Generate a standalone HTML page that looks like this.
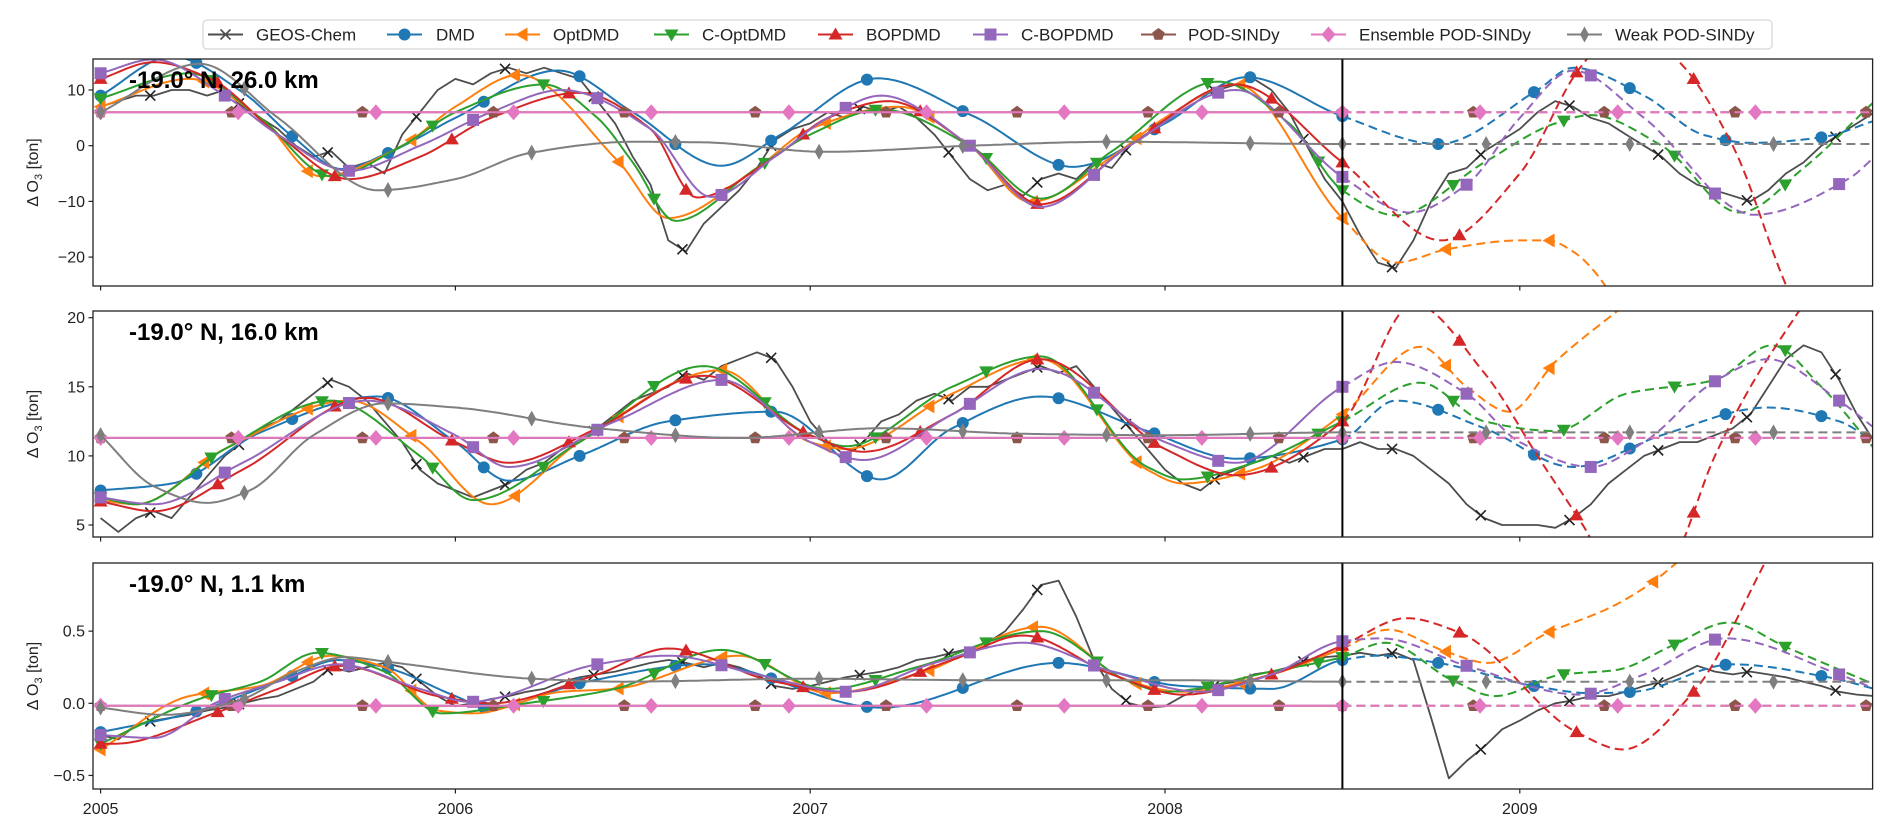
<!DOCTYPE html>
<html><head><meta charset="utf-8"><style>
html,body{margin:0;padding:0;background:#fff;width:1892px;height:834px;overflow:hidden;}
svg{display:block;font-family:"Liberation Sans","DejaVu Sans",sans-serif;}
</style></head><body>
<svg id="chart" width="1892" height="834" viewBox="0 0 1892 834" xmlns="http://www.w3.org/2000/svg" overflow="hidden"></svg>
<script>
// ---------- data ----------
const years = [2005, 2006, 2007, 2008, 2009];
const panelTitles = ["-19.0° N, 26.0 km", "-19.0° N, 16.0 km", "-19.0° N, 1.1 km"];
const p1Ticks = [10, 0, -10, -20];
const p2Ticks = [20, 15, 10, 5];
const p3Ticks = [0.5, 0.0, -0.5];
const p3TickLabels = ["0.5", "0.0", "\u22120.5"];
const splitYear = 2008.5;

// GEOS-Chem samples every 0.05 yr from 2005.00
const p1Geos = [7,8,9,9,10,10,9,10,7,5, 3,0,-2,-1,-4,-3,-5,2,6,10, 12,11,13,14,13,14,13,12,8,4, -2,-7,-17,-19,-14,-11,-8,-4,1,3, 4,6,5,7,6,7,5,2,-2,-6, -8,-7,-9,-6,-5,-6,-3,-4,0,2, 5,7,9,10,11,12,10,6,0,-6, -10,-16,-21,-22,-17,-10,-5,-4,-1,1, 3,6,8,7,5,4,2,0,-2,-5, -7,-8,-9,-10,-8,-5,-3,0,2,4, 6];
const p2Geos = [5.5,4.5,5.5,6,5.5,7,8.5,10,11,12, 12.5,13.5,14.5,15.5,15,14,12.5,11,9,8, 7.5,7,7.5,8,9,9.5,10.5,11,12,13, 14,14.5,15,16,15.5,16.5,17,17.5,17,15, 12.5,11,10,11,12.5,13,14,14.5,14,15, 15,15.5,16,16.5,16,16.5,15,13.5,12,10.5, 9,8,7.5,8.5,9,9.5,10,9.5,10,10.5, 10.5,11,10.5,10.5,10,9,8,6.5,5.5,5, 5,5,4.8,5.5,6.5,8,9,10,10.5,11, 11,11.5,12,13,15,17,18,17.5,15.5,13, 11];
const p3Geos = [-0.22,-0.25,-0.15,-0.12,-0.1,-0.08,-0.05,-0.03,0.0,0.03, 0.05,0.1,0.15,0.25,0.22,0.25,0.28,0.25,0.15,0.05, -0.02,0.0,0.03,0.05,0.08,0.1,0.15,0.18,0.2,0.22, 0.25,0.28,0.3,0.28,0.25,0.28,0.25,0.2,0.12,0.1, 0.12,0.15,0.18,0.2,0.22,0.25,0.3,0.32,0.35,0.38, 0.42,0.5,0.65,0.82,0.85,0.6,0.3,0.1,0.0,-0.03, -0.02,0.05,0.1,0.13,0.15,0.2,0.22,0.25,0.3,0.32, 0.33,0.35,0.33,0.35,0.3,-0.1,-0.52,-0.4,-0.3,-0.18, -0.12,-0.05,0.0,0.02,0.05,0.05,0.08,0.12,0.15,0.2, 0.26,0.22,0.2,0.22,0.2,0.18,0.15,0.12,0.08,0.06, 0.05];

// Panel 1 model series (key times / values)
const p1DmdT = [2005,2005.2,2005.4,2005.54,2005.68,2005.81,2006.0,2006.29,2006.5,2006.75,2006.92,2007.19,2007.46,2007.74,2008.0,2008.23,2008.5,2008.77,2009.05,2009.15,2009.35,2009.52,2009.65,2009.85,2010];
const p1DmdV = [9,16,9.6,1.7,-4.2,-1.3,5,13.5,6,-3.6,2.1,12.1,5.3,-3.8,4,12.3,5.3,0.3,10,14,9,1.9,0.5,1.5,4.5];
const p1OptT = [2005,2005.25,2005.45,2005.62,2005.85,2006.0,2006.18,2006.46,2006.6,2006.85,2007.0,2007.25,2007.45,2007.62,2007.85,2008.0,2008.2,2008.5,2008.65,2008.8,2009.0,2009.08,2009.15,2009.25,2009.4,2010];
const p1OptV = [7,12,5,-5.5,0,7,12.7,-2.9,-13,-4,3,7,0,-10.1,-2,5,11,-13,-21,-18.5,-17,-17,-19,-26,-50,-150];
const p1CoptT = [2005,2005.25,2005.45,2005.65,2005.85,2006.0,2006.25,2006.4,2006.5,2006.62,2006.85,2007.0,2007.2,2007.45,2007.65,2007.85,2008.15,2008.35,2008.5,2008.65,2008.9,2009.1,2009.2,2009.4,2009.62,2009.8,2010];
const p1CoptV = [8.5,13,5,-5.5,0,6,11,5,-3,-13.5,-4,2,6.5,0,-9.5,-1,11.5,4,-8,-12.5,-3,4,5.5,0,-12,-4,8];
const p1BopT = [2005,2005.15,2005.31,2005.5,2005.7,2005.9,2006.1,2006.35,2006.55,2006.68,2006.9,2007.05,2007.22,2007.45,2007.65,2007.9,2008.2,2008.5,2008.78,2009.0,2009.17,2009.3,2009.45,2009.6,2009.75,2009.9];
const p1BopV = [12,15,12,2,-6,-2,5,9.5,3,-9.3,-2,5,8,0,-10.5,0,11,-3,-17,-5,14,22,15,0,-25,-45];
const p1CbopT = [2005,2005.15,2005.35,2005.5,2005.7,2005.9,2006.1,2006.3,2006.55,2006.72,2006.9,2007.05,2007.2,2007.45,2007.65,2007.9,2008.2,2008.5,2008.69,2008.85,2009.0,2009.15,2009.35,2009.66,2009.93,2010];
const p1CbopV = [13,15.5,9,2,-4.5,0,6,10,3,-9.2,-2,5,9,0,-11,0,10,-5.6,-12,-7,5,13.5,5,-12.4,-5.8,-2];
const p1PodT = [2005,2010];
const p1PodV = [6,6];
const p1EnsT = [2005,2010];
const p1EnsV = [6,6];
const p1WeakT = [2005,2005.28,2005.5,2005.78,2006.0,2006.21,2006.5,2006.7,2007.04,2007.45,2007.85,2008.5,2010];
const p1WeakV = [6,14.7,5,-8,-6,-1.3,0.7,0.6,-1.1,0,0.7,0.3,0.3];

// Panel 2
const p2DmdT = [2005,2005.2,2005.45,2005.78,2006.0,2006.15,2006.35,2006.6,2006.9,2007.2,2007.4,2007.65,2007.95,2008.2,2008.5,2008.65,2008.9,2009.15,2009.4,2009.7,2009.9,2010];
const p2DmdV = [7.5,8,11.7,14.3,11,8.2,10,12.5,13.2,8.3,12,14.3,11.8,9.8,11.2,14,12,9.2,11.5,13.5,12.5,11];
const p2OptT = [2005,2005.1,2005.35,2005.7,2005.9,2006.1,2006.35,2006.75,2007.0,2007.1,2007.4,2007.65,2007.95,2008.05,2008.25,2008.5,2008.72,2008.85,2008.97,2009.1,2009.3];
const p2OptV = [6.8,6.5,10.5,14,11,6.5,11,16.2,11,10.5,14.5,17,9,8,9,13,17.9,15,13.2,16.8,21];
const p2CoptT = [2005,2005.1,2005.35,2005.65,2005.9,2006.05,2006.35,2006.7,2007.0,2007.1,2007.4,2007.65,2007.95,2008.05,2008.25,2008.5,2008.72,2008.9,2009.1,2009.3,2009.55,2009.71,2009.85,2010];
const p2CoptV = [7,6.5,10.5,14,10,6.8,11,16.5,11.5,10.7,15,17.2,9.2,8.3,9.5,12.5,15.3,12.5,11.8,14.5,15.5,18,15,10.5];
const p2BopT = [2005,2005.15,2005.4,2005.75,2006.0,2006.15,2006.4,2006.7,2007.0,2007.15,2007.4,2007.65,2008.0,2008.2,2008.5,2008.7,2008.9,2009.05,2009.18,2009.3,2009.42,2009.55,2009.65,2009.8];
const p2BopV = [6.7,6,9,14.2,11,9.5,12,15.8,11.5,10.3,13,17,10.5,8.6,12.5,21,16,10,4.9,0,2,10,15,21];
const p2CbopT = [2005,2005.15,2005.4,2005.75,2006.0,2006.15,2006.45,2006.75,2007.0,2007.15,2007.4,2007.65,2008.0,2008.2,2008.5,2008.65,2008.85,2009.0,2009.2,2009.35,2009.55,2009.7,2009.9,2010];
const p2CbopV = [7,6.5,9.5,14,11.5,9.2,12.5,15.5,11,9.7,13,16.3,11,9.5,15,16.8,14.5,11,9.2,11,15.4,17,14,12];
const p2PodT = [2005,2010];
const p2PodV = [11.3,11.3];
const p2EnsT = [2005,2010];
const p2EnsV = [11.3,11.3];
const p2WeakT = [2005,2005.15,2005.3,2005.42,2005.6,2005.8,2006.0,2006.4,2006.8,2007.2,2007.6,2008.0,2008.5,2010];
const p2WeakV = [11.5,7.8,6.6,7.5,11.5,13.8,13.5,12,11.3,12,11.6,11.5,11.7,11.7];

// Panel 3
const p3DmdT = [2005,2005.25,2005.53,2005.67,2005.8,2006.0,2006.09,2006.37,2006.7,2007.2,2007.7,2008.05,2008.3,2008.5,2008.6,2008.77,2009.04,2009.2,2009.32,2009.6,2009.87,2010];
const p3DmdV = [-0.2,-0.07,0.18,0.3,0.25,0.05,-0.03,0.15,0.27,-0.03,0.28,0.12,0.1,0.3,0.33,0.28,0.12,0.07,0.08,0.27,0.18,0.1];
const p3OptT = [2005,2005.25,2005.45,2005.65,2005.8,2005.95,2006.05,2006.3,2006.45,2006.8,2007.05,2007.3,2007.65,2007.9,2008.05,2008.3,2008.5,2008.63,2008.79,2008.91,2009.08,2009.26,2009.38,2009.44,2009.6];
const p3OptV = [-0.32,0.05,0.12,0.33,0.25,-0.05,-0.07,0.08,0.1,0.33,0.07,0.2,0.53,0.15,0.08,0.2,0.38,0.51,0.36,0.28,0.49,0.67,0.85,0.97,1.3];
const p3CoptT = [2005,2005.29,2005.45,2005.61,2005.8,2005.96,2006.2,2006.45,2006.75,2007.05,2007.3,2007.65,2007.9,2008.0,2008.3,2008.5,2008.62,2008.81,2008.93,2009.12,2009.27,2009.43,2009.59,2009.75,2010];
const p3CoptV = [-0.28,0.04,0.15,0.35,0.22,-0.07,0.0,0.1,0.37,0.1,0.25,0.5,0.15,0.08,0.22,0.32,0.42,0.16,0.05,0.2,0.23,0.4,0.56,0.39,0.13];
const p3BopT = [2005,2005.04,2005.32,2005.5,2005.68,2005.95,2006.1,2006.4,2006.6,2006.9,2007.1,2007.4,2007.6,2007.85,2008.05,2008.3,2008.5,2008.68,2008.83,2009.16,2009.29,2009.49,2009.69,2009.8];
const p3BopV = [-0.28,-0.28,-0.07,0.1,0.26,0.05,0.0,0.2,0.38,0.15,0.08,0.3,0.47,0.2,0.06,0.2,0.4,0.59,0.49,-0.2,-0.32,0.08,0.97,1.5];
const p3CbopT = [2005,2005.15,2005.33,2005.5,2005.67,2005.9,2006.04,2006.4,2006.6,2006.85,2007.1,2007.35,2007.6,2007.85,2008.1,2008.3,2008.5,2008.61,2008.85,2009.17,2009.35,2009.58,2009.9,2010];
const p3CbopV = [-0.22,-0.24,0.01,0.15,0.27,0.1,0.01,0.27,0.33,0.2,0.08,0.28,0.42,0.22,0.08,0.2,0.43,0.45,0.26,0.06,0.2,0.45,0.2,0.1];
const p3PodT = [2005,2010];
const p3PodV = [-0.017,-0.017];
const p3EnsT = [2005,2010];
const p3EnsV = [-0.017,-0.017];
const p3WeakT = [2005,2005.18,2005.39,2005.55,2005.69,2005.8,2006.22,2006.47,2007.0,2007.5,2008.0,2008.5,2010];
const p3WeakV = [-0.03,-0.08,0.02,0.22,0.32,0.29,0.17,0.15,0.17,0.16,0.16,0.15,0.15];

// ---------- layout ----------
const NS = "http://www.w3.org/2000/svg";
const svg = document.getElementById('chart');
const X0 = 100.6, PXY = 354.8, XL = 93, XR = 1872.6;
function xs(t){ return X0 + (t - 2005) * PXY; }
const panels = [
  {top:59, bottom:286, y:v=>145.7 - v*5.57},
  {top:311, bottom:537, y:v=>317.7 + (20 - v)*13.82},
  {top:563, bottom:789, y:v=>703.3 - v*144.3}
];
const geosData = [p1Geos, p2Geos, p3Geos];
const C = {geos:'#4d4d4d', dmd:'#1f77b4', opt:'#ff7f0e', copt:'#2ca02c', bop:'#d62728', cbop:'#9467bd', pod:'#8c564b', ens:'#e377c2', weak:'#7f7f7f'};
const seriesDefs = [
  {key:'dmd', name:'DMD', marker:'o', dt:0.27, data:[[p1DmdT,p1DmdV],[p2DmdT,p2DmdV],[p3DmdT,p3DmdV]]},
  {key:'opt', name:'OptDMD', marker:'<', dt:0.292, data:[[p1OptT,p1OptV],[p2OptT,p2OptV],[p3OptT,p3OptV]]},
  {key:'copt', name:'C-OptDMD', marker:'v', dt:0.312, data:[[p1CoptT,p1CoptV],[p2CoptT,p2CoptV],[p3CoptT,p3CoptV]]},
  {key:'bop', name:'BOPDMD', marker:'^', dt:0.33, data:[[p1BopT,p1BopV],[p2BopT,p2BopV],[p3BopT,p3BopV]]},
  {key:'cbop', name:'C-BOPDMD', marker:'s', dt:0.35, data:[[p1CbopT,p1CbopV],[p2CbopT,p2CbopV],[p3CbopT,p3CbopV]]},
  {key:'pod', name:'POD-SINDy', marker:'p', dt:0.369, data:[[p1PodT,p1PodV],[p2PodT,p2PodV],[p3PodT,p3PodV]]},
  {key:'ens', name:'Ensemble POD-SINDy', marker:'D', dt:0.388, data:[[p1EnsT,p1EnsV],[p2EnsT,p2EnsV],[p3EnsT,p3EnsV]]},
  {key:'weak', name:'Weak POD-SINDy', marker:'d', dt:0.405, data:[[p1WeakT,p1WeakV],[p2WeakT,p2WeakV],[p3WeakT,p3WeakV]]}
];

function el(tag, attrs, parent){
  const e = document.createElementNS(NS, tag);
  for (const k in attrs) e.setAttribute(k, attrs[k]);
  (parent || svg).appendChild(e);
  return e;
}
function mono(ts, vs){
  const n = ts.length, d = [], m = [];
  for (let i=0;i<n-1;i++) d.push((vs[i+1]-vs[i])/(ts[i+1]-ts[i]));
  m[0] = d[0]; m[n-1] = d[n-2];
  for (let i=1;i<n-1;i++){
    if (d[i-1]*d[i] <= 0) m[i] = 0;
    else { const h0=ts[i]-ts[i-1], h1=ts[i+1]-ts[i]; const w1=2*h1+h0, w2=h1+2*h0; m[i]=(w1+w2)/(w1/d[i-1]+w2/d[i]); }
  }
  return function(t){
    if (t <= ts[0]) return vs[0];
    if (t >= ts[n-1]) return vs[n-1] + m[n-1]*(t-ts[n-1]);
    let i=0; while (i<n-2 && t>ts[i+1]) i++;
    const h=ts[i+1]-ts[i], s=(t-ts[i])/h;
    const h00=2*s*s*s-3*s*s+1, h10=s*s*s-2*s*s+s, h01=-2*s*s*s+3*s*s, h11=s*s*s-s*s;
    return h00*vs[i]+h10*h*m[i]+h01*vs[i+1]+h11*h*m[i+1];
  };
}
function marker(shape, x, y, color, parent){
  let e;
  if (shape==='o') e = el('circle',{cx:x,cy:y,r:6,fill:color},parent);
  else if (shape==='s') e = el('rect',{x:x-6,y:y-6,width:12,height:12,fill:color},parent);
  else if (shape==='^') e = el('polygon',{points:`${x},${y-7} ${x-7},${y+5} ${x+7},${y+5}`,fill:color},parent);
  else if (shape==='v') e = el('polygon',{points:`${x},${y+7} ${x-7},${y-5} ${x+7},${y-5}`,fill:color},parent);
  else if (shape==='<') e = el('polygon',{points:`${x-7},${y} ${x+5},${y-7} ${x+5},${y+7}`,fill:color},parent);
  else if (shape==='D') e = el('polygon',{points:`${x},${y-8} ${x+7},${y} ${x},${y+8} ${x-7},${y}`,fill:color},parent);
  else if (shape==='d') e = el('polygon',{points:`${x},${y-8} ${x+4.5},${y} ${x},${y+8} ${x-4.5},${y}`,fill:color},parent);
  else if (shape==='p'){ let pts=[]; for(let k=0;k<5;k++){const a=-Math.PI/2+k*2*Math.PI/5; pts.push((x+6.5*Math.cos(a)).toFixed(1)+','+(y+6.5*Math.sin(a)).toFixed(1));} e = el('polygon',{points:pts.join(' '),fill:color},parent); }
  else if (shape==='x') e = el('path',{d:`M${x-5},${y-5}L${x+5},${y+5}M${x-5},${y+5}L${x+5},${y-5}`,stroke:color,'stroke-width':1.6,fill:'none'},parent);
  return e;
}

// ---------- legend ----------
const leg = el('g',{});


el('rect',{x:203,y:20,width:1569,height:29,rx:4,fill:'#fff',stroke:'#d6d6d6','stroke-width':1.2},leg);
const legLineX = [208,387,505,654,818,973,1141,1311,1567];
const legTextX = [256,436,553,702,866,1021,1188,1359,1615];
const legItems = [{name:'GEOS-Chem',color:C.geos,marker:'x'}].concat(
  seriesDefs.map(s=>({name:s.name,color:C[s.key],marker:s.marker})));
legItems.forEach((it,i)=>{
  const g = el('g',{},leg);
  
  
  el('line',{x1:legLineX[i],y1:34.5,x2:legLineX[i]+35,y2:34.5,stroke:it.color,'stroke-width':2},g);
  marker(it.marker, legLineX[i]+17.5, 34.5, it.color, g);
  const t = el('text',{x:legTextX[i],y:40.5,'font-size':17,fill:'#222'},g);
  t.textContent = it.name;
});

// ---------- panels ----------
const tickSets = [p1Ticks, p2Ticks, p3Ticks];
panels.forEach((P, pi)=>{
  const g = el('g',{});
  
  
  const cid = 'clip'+pi;
  const cp = el('clipPath',{id:cid},g);
  el('rect',{x:XL,y:P.top,width:XR-XL,height:P.bottom-P.top},cp);
  const plot = el('g',{'clip-path':`url(#${cid})`},g);
  const cy = v => Math.max(P.top-40, Math.min(P.bottom+40, P.y(v)));

  const gv = geosData[pi];
  let d = '';
  gv.forEach((v,i)=>{ d += (i?'L':'M') + xs(2005+i*0.05).toFixed(1)+','+cy(v).toFixed(1); });
  const gl = el('path',{d:d,fill:'none',stroke:C.geos,'stroke-width':1.8,'stroke-linejoin':'round'},plot);
  
  
  for (let t=2005.14; t<=2010; t+=0.25){
    const i = Math.min(Math.floor((t-2005)/0.05), gv.length-2), f=(t-2005)/0.05-i;
    const v = gv[i]*(1-f)+gv[i+1]*f;
    const yy = P.y(v);
    if (yy > P.top-8 && yy < P.bottom+8) marker('x', xs(t), yy, '#222', plot);
  }

  seriesDefs.forEach(s=>{
    const [ts, vs] = s.data[pi];
    const f = mono(ts, vs);
    const col = C[s.key];
    let d1='', d2='';
    for (let t=2005; t<=splitYear+1e-9; t+=0.01) d1 += (d1?'L':'M') + xs(t).toFixed(1)+','+cy(f(t)).toFixed(1);
    for (let t=splitYear; t<=2010.001; t+=0.01) d2 += (d2?'L':'M') + xs(t).toFixed(1)+','+cy(f(t)).toFixed(1);
    const l1 = el('path',{d:d1,fill:'none',stroke:col,'stroke-width':2},plot);
    
    
    const l2 = el('path',{d:d2,fill:'none',stroke:col,'stroke-width':2,'stroke-dasharray':'9,5'},plot);
    
    
    const mk = t => { const yy = P.y(f(t)); if (yy > P.top-8 && yy < P.bottom+8) marker(s.marker, xs(t), yy, col, plot); };
    for (let t=2005; t<splitYear-0.02; t+=s.dt) mk(t);
    for (let t=splitYear; t<=2010; t+=s.dt) mk(t);
  });

  const sl = el('line',{x1:xs(splitYear),y1:P.top,x2:xs(splitYear),y2:P.bottom,stroke:'#000','stroke-width':2},g);
  
  

  const fr = el('rect',{x:XL,y:P.top,width:XR-XL,height:P.bottom-P.top,fill:'none',stroke:'#222','stroke-width':1.3},g);
  
  

  tickSets[pi].forEach((v,k)=>{
    const y = P.y(v);
    el('line',{x1:XL-4.5,y1:y,x2:XL,y2:y,stroke:'#222','stroke-width':1.2},g);
    const t = el('text',{x:XL-8,y:y+5.5,'font-size':16,'text-anchor':'end',fill:'#222'},g);
    t.textContent = pi===2 ? p3TickLabels[k] : String(v).replace('-','\u2212');
    
    
  });
  years.forEach(yr=>{
    el('line',{x1:xs(yr),y1:P.bottom,x2:xs(yr),y2:P.bottom+4.5,stroke:'#222','stroke-width':1.2},g);
    if (pi===2){
      const t = el('text',{x:xs(yr),y:814,'font-size':16,'text-anchor':'middle',fill:'#222'},g);
      t.textContent = yr;
      
      
    }
  });
  const cyc = (P.top+P.bottom)/2;
  const yl = el('text',{x:0,y:0,'font-size':16,'text-anchor':'middle',fill:'#222',transform:`translate(38,${cyc}) rotate(-90)`},g);
  
  
  yl.appendChild(document.createTextNode('\u0394 O'));
  const sub = el('tspan',{'font-size':11,dy:4},yl); sub.textContent='3';
  const rest = el('tspan',{dy:-4},yl); rest.textContent=' [ton]';
  const tt = el('text',{x:129,y:P.top+29,'font-size':24,'font-weight':'bold',fill:'#000'},g);
  tt.textContent = panelTitles[pi];
  
  
});
</script>
</body></html>
